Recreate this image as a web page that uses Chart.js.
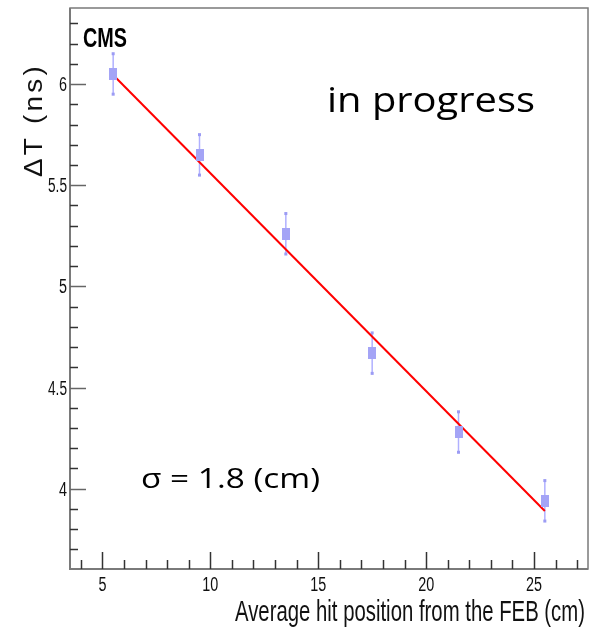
<!DOCTYPE html>
<html>
<head>
<meta charset="utf-8">
<script src="https://cdn.jsdelivr.net/npm/chart.js@4/dist/chart.umd.min.js"></script>
<style>
  html, body { margin: 0; padding: 0; background: #fff; }
  canvas { display: block; }
</style>
</head>
<body>
<canvas id="grafico" width="598" height="627"></canvas>
<script>
// ── Dados ───────────────────────────────────────────────────────────────────
const posicoes = [5.5, 9.5, 13.5, 17.5, 21.5, 25.5]
const deltaT = [6.05, 5.65, 5.26, 4.67, 4.28, 3.94]
const erros = [0.1, 0.1, 0.1, 0.1, 0.1, 0.1]

const ajusteX = [5.5, 25.5]
const ajusteY = [6.045, 3.89]

const ticksX = [5, 10, 15, 20, 25]
const rotulosX = ['5', '10', '15', '20', '25']
const ticksY = [4, 4.5, 5, 5.5, 6]
const rotulosY = ['4', '4.5', '5', '5.5', '6']

const FONTE_EIXO = "'Liberation Sans Narrow', 'Liberation Sans', Arial, sans-serif"
const FONTE_TEXTO = "'Open Sans', 'Noto Sans', sans-serif"

// ── Helpers ─────────────────────────────────────────────────────────────────

// escreve o texto comprimido/esticado para ocupar a largura medida na figura
function textoAjustado(ctx, texto, x, y, largura, fonte, alinhar = 'left') {
  ctx.save()
  ctx.font = fonte
  const w = ctx.measureText(texto).width
  const s = largura / w
  ctx.translate(x, y)
  ctx.scale(s, 1)
  ctx.textAlign = alinhar
  ctx.textBaseline = 'alphabetic'
  ctx.fillText(texto, 0, 0)
  ctx.restore()
}

function marcador() {
  const c = document.createElement('canvas')
  c.width = 8
  c.height = 12
  const g = c.getContext('2d')
  g.fillStyle = '#a4a4f6'
  g.fillRect(0, 0, 8, 12)
  return c
}

// ── Plugin: moldura, ticks internos, barras de erro e textos ───────────────

const eixosRoot = {
  id: 'eixosRoot',
  beforeDraw(chart) {
    const ctx = chart.ctx
    ctx.save()
    ctx.fillStyle = '#fff'
    ctx.fillRect(0, 0, chart.width, chart.height)
    ctx.restore()
  },
  beforeDatasetsDraw(chart) {
    const ctx = chart.ctx
    const sx = chart.scales.x
    const sy = chart.scales.y
    ctx.save()
    ctx.strokeStyle = '#b0b0ff'
    ctx.fillStyle = '#9c9cf4'
    ctx.lineWidth = 1.5
    posicoes.forEach((p, i) => {
      const px = sx.getPixelForValue(p)
      const y1 = sy.getPixelForValue(deltaT[i] + erros[i])
      const y2 = sy.getPixelForValue(deltaT[i] - erros[i])
      ctx.beginPath()
      ctx.moveTo(px, y1)
      ctx.lineTo(px, y2)
      ctx.stroke()
      ctx.fillRect(px - 1.5, y1 - 1.5, 3, 3)
      ctx.fillRect(px - 1.5, y2 - 1.5, 3, 3)
    })
    ctx.restore()
  },
  afterDraw(chart) {
    const ctx = chart.ctx
    const a = chart.chartArea
    const sx = chart.scales.x
    const sy = chart.scales.y
    ctx.save()

    // moldura
    ctx.strokeStyle = '#7a7a7a'
    ctx.lineWidth = 1.5
    ctx.strokeRect(a.left, a.top, a.right - a.left, a.bottom - a.top)
    ctx.lineWidth = 2
    ctx.beginPath()
    ctx.moveTo(a.left, a.top)
    ctx.lineTo(a.left, a.bottom)
    ctx.lineTo(a.right, a.bottom)
    ctx.stroke()

    // ticks do eixo y
    ctx.lineWidth = 1.5
    for (let v = 3.7; v < sy.max; v += 0.1) {
      const py = Math.round(sy.getPixelForValue(v)) + 0.5
      const maior = ticksY.some((t) => Math.abs(t - v) < 1e-6)
      ctx.strokeStyle = maior ? '#666' : '#333'
      ctx.beginPath()
      ctx.moveTo(a.left, py)
      ctx.lineTo(a.left + (maior ? 16 : 8), py)
      ctx.stroke()
    }
    // ticks do eixo x
    for (let v = 4; v < sx.max; v += 1) {
      const px = Math.round(sx.getPixelForValue(v)) + 0.5
      const maior = ticksX.includes(v)
      ctx.strokeStyle = '#333'
      ctx.beginPath()
      ctx.moveTo(px, a.bottom)
      ctx.lineTo(px, a.bottom - (maior ? 17 : 9))
      ctx.stroke()
    }

    // rótulos
    ctx.fillStyle = '#111'
    ticksX.forEach((t, i) => {
      textoAjustado(ctx, rotulosX[i], sx.getPixelForValue(t), 591,
        rotulosX[i].length * 8, `20px ${FONTE_EIXO}`, 'center')
    })
    ticksY.forEach((t, i) => {
      textoAjustado(ctx, rotulosY[i], 67, sy.getPixelForValue(t) + 7,
        rotulosY[i].length === 1 ? 8 : 19, `20px ${FONTE_EIXO}`, 'right')
    })

    // títulos
    textoAjustado(ctx, 'Average hit position from the FEB (cm)', 585, 621, 350,
      `29px ${FONTE_EIXO}`, 'right')

    ctx.save()
    ctx.translate(42, 120)
    ctx.rotate(-Math.PI / 2)
    ctx.letterSpacing = '3px'
    textoAjustado(ctx, 'ΔT (ns)', 0, 0, 114, "26px 'Liberation Sans', Arial, sans-serif", 'center')
    ctx.restore()

    ctx.fillStyle = '#000'
    textoAjustado(ctx, 'CMS', 83, 47, 44, "bold 28px 'Liberation Sans', Arial, sans-serif")
    textoAjustado(ctx, 'in progress', 327, 112, 208, `35px ${FONTE_TEXTO}`)
    textoAjustado(ctx, 'σ = 1.8 (cm)', 141, 488, 179, `28px ${FONTE_TEXTO}`)

    ctx.restore()
  },
}

// ── Gráfico ────────────────────────────────────────────────────────────────

const chart = new Chart(document.getElementById('grafico'), {
  type: 'scatter',
  data: {
    datasets: [
      {
        label: 'pontos',
        data: posicoes.map((p, i) => ({ x: p, y: deltaT[i] })),
        pointStyle: marcador(),
        pointRadius: 5,
        showLine: false,
      },
      {
        label: 'ajuste',
        data: ajusteX.map((p, i) => ({ x: p, y: ajusteY[i] })),
        showLine: true,
        borderColor: '#ff0000',
        borderWidth: 2,
        pointRadius: 0,
      },
    ],
  },
  options: {
    responsive: false,
    animation: false,
    layout: { padding: { left: 70, right: 10, top: 8, bottom: 58 } },
    plugins: {
      legend: { display: false },
      tooltip: { enabled: false },
    },
    scales: {
      x: { type: 'linear', min: 3.5, max: 27.5, display: false },
      y: { type: 'linear', min: 3.603, max: 6.376, display: false },
    },
  },
  plugins: [eixosRoot],
})
</script>
</body>
</html>
